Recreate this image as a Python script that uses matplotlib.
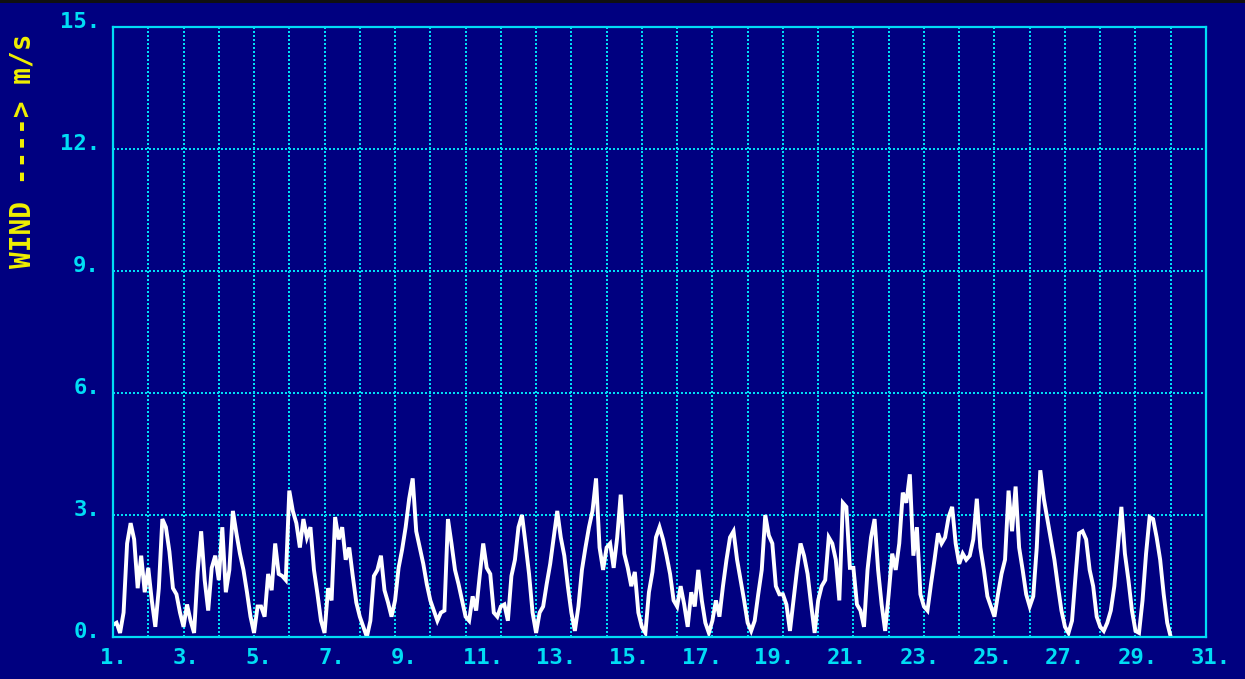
import numpy as np
import matplotlib
matplotlib.use("Agg")
import matplotlib.pyplot as plt
from matplotlib.transforms import ScaledTranslation, blended_transform_factory
from matplotlib.patches import Rectangle

# Wind speed (m/s), one sample every 0.1 grid-day, starting at grid-day 1.0
wind_01_05 = [0.3, 0.35, 0.1, 0.6, 2.3, 2.8, 2.4, 1.2, 2.0, 1.1,
              1.7, 0.9, 0.25, 1.2, 2.9, 2.7, 2.1, 1.2, 1.05, 0.6,
              0.25, 0.8, 0.4, 0.1, 1.6, 2.6, 1.4, 0.65, 1.7, 2.0,
              1.4, 2.7, 1.1, 1.65, 3.1, 2.55, 2.05, 1.65, 1.1, 0.5,
              0.1, 0.75, 0.75, 0.5, 1.55, 1.15, 2.3, 1.55, 1.5, 1.4]
wind_06_10 = [3.6, 3.1, 2.8, 2.2, 2.9, 2.45, 2.7, 1.65, 1.05, 0.4,
              0.1, 1.2, 0.9, 2.95, 2.4, 2.7, 1.9, 2.2, 1.5, 0.85,
              0.5, 0.25, 0.0, 0.4, 1.5, 1.65, 2.0, 1.15, 0.85, 0.5,
              0.9, 1.7, 2.15, 2.7, 3.4, 3.9, 2.6, 2.2, 1.8, 1.3,
              0.9, 0.65, 0.4, 0.6, 0.65, 2.9, 2.3, 1.65, 1.3, 0.9]
wind_11_15 = [0.5, 0.4, 1.0, 0.65, 1.5, 2.3, 1.7, 1.55, 0.6, 0.5,
              0.75, 0.8, 0.4, 1.5, 1.9, 2.7, 3.0, 2.3, 1.55, 0.6,
              0.1, 0.6, 0.75, 1.3, 1.8, 2.45, 3.1, 2.45, 2.0, 1.25,
              0.6, 0.15, 0.75, 1.65, 2.2, 2.7, 3.1, 3.9, 2.2, 1.65,
              2.2, 2.3, 1.7, 2.45, 3.5, 2.05, 1.7, 1.25, 1.6, 0.6]
wind_16_20 = [0.25, 0.1, 1.1, 1.6, 2.45, 2.7, 2.4, 2.0, 1.55, 0.9,
              0.75, 1.25, 0.8, 0.25, 1.1, 0.75, 1.65, 0.9, 0.35, 0.1,
              0.4, 0.9, 0.5, 1.25, 1.9, 2.45, 2.6, 1.9, 1.4, 0.9,
              0.35, 0.15, 0.4, 1.05, 1.65, 3.0, 2.5, 2.3, 1.25, 1.05,
              1.05, 0.8, 0.15, 0.9, 1.65, 2.3, 2.0, 1.55, 0.8, 0.1]
wind_21_25 = [0.9, 1.25, 1.4, 2.45, 2.3, 1.9, 0.9, 3.3, 3.2, 1.7,
              1.7, 0.8, 0.65, 0.25, 1.65, 2.45, 2.9, 1.65, 0.8, 0.15,
              1.05, 2.05, 1.65, 2.3, 3.55, 3.3, 4.0, 2.0, 2.7, 1.05,
              0.75, 0.65, 1.3, 1.9, 2.55, 2.3, 2.45, 2.95, 3.2, 2.3,
              1.8, 2.05, 1.9, 2.0, 2.4, 3.4, 2.2, 1.65, 1.0, 0.75]
wind_26_31 = [0.5, 1.05, 1.55, 1.9, 3.6, 2.6, 3.7, 2.2, 1.65, 1.05,
              0.75, 1.0, 2.2, 4.1, 3.4, 2.9, 2.4, 1.9, 1.25, 0.65,
              0.25, 0.1, 0.4, 1.5, 2.55, 2.6, 2.4, 1.65, 1.25, 0.5,
              0.25, 0.15, 0.35, 0.65, 1.25, 2.2, 3.2, 2.05, 1.4, 0.65,
              0.15, 0.1, 0.9, 2.05, 2.95, 2.9, 2.45, 1.9, 1.05, 0.35,
              0.0]

t_start = 1.0
t_step = 0.1

y_ticks = [0, 3, 6, 9, 12, 15]
y_tick_labels = ["0.", "3.", "6.", "9.", "12.", "15."]
x_label_days = [1, 3, 5, 7, 9, 11, 13, 15, 17, 19, 21, 23, 25, 27, 29, 31]
x_tick_labels = [f"{d}." for d in x_label_days]
y_axis_label = "WIND ----> m/s"

wind = np.array(wind_01_05 + wind_06_10 + wind_11_15 + wind_16_20 + wind_21_25 + wind_26_31)
t = t_start + t_step * np.arange(len(wind))

BG = "#000080"
CYAN = "#00DDF5"
YELLOW = "#F0F000"
FONT = "DejaVu Sans Mono"

fig = plt.figure(figsize=(12.45, 6.79), dpi=100, facecolor=BG)
ax = fig.add_axes([113 / 1245, 1 - 637 / 679, 1093 / 1245, 610 / 679])
ax.set_facecolor(BG)
ax.set_xlim(1, 32)
ax.set_ylim(0, 15)

# dotted grid (31 equal divisions horizontally)
for g in range(2, 32):
    ax.axvline(g, color=CYAN, lw=1.1, ls=(0, (0.9, 1.8)), zorder=1, antialiased=False)
for v in y_ticks[1:-1]:
    ax.axhline(v, color=CYAN, lw=1.1, ls=(0, (0.9, 1.8)), zorder=1, antialiased=False)

ax.plot(t, wind, color="white", lw=2.8, zorder=3, solid_joinstyle="miter")

for s in ax.spines.values():
    s.set_color(CYAN)
    s.set_linewidth(1.6)
    s.set_zorder(4)
ax.set_xticks([])
ax.set_yticks([])

# y tick labels
ytrans = blended_transform_factory(ax.transAxes, ax.transData) + \
    ScaledTranslation(-13 / 100, -1 / 100, fig.dpi_scale_trans)
for v, lab in zip(y_ticks, y_tick_labels):
    ax.text(0, v, lab, transform=ytrans, ha="right", va="baseline",
            color=CYAN, fontsize=16, fontweight="bold", family=FONT)

# x tick labels (label scale: day 1 at left edge, day 31 at 0.9977 of width)
xtrans = ax.transAxes + ScaledTranslation(-13 / 100, -11 / 100, fig.dpi_scale_trans)
for d, lab in zip(x_label_days, x_tick_labels):
    frac = (d - x_label_days[0]) / (x_label_days[-1] - x_label_days[0]) * 0.9977
    ax.text(frac, 0, lab, transform=xtrans, ha="left", va="top",
            color=CYAN, fontsize=16, fontweight="bold", family=FONT)

fig.text(23 / 1245, 1 - 151 / 679, y_axis_label, rotation=90, ha="center", va="center",
         color=YELLOW, fontsize=20, fontweight="bold", family=FONT)

fig.patches.append(Rectangle((0, 1 - 3 / 679), 1, 3 / 679, transform=fig.transFigure,
                             facecolor="#101010", edgecolor="none"))

fig.savefig("out.png", dpi=100, facecolor=BG)
